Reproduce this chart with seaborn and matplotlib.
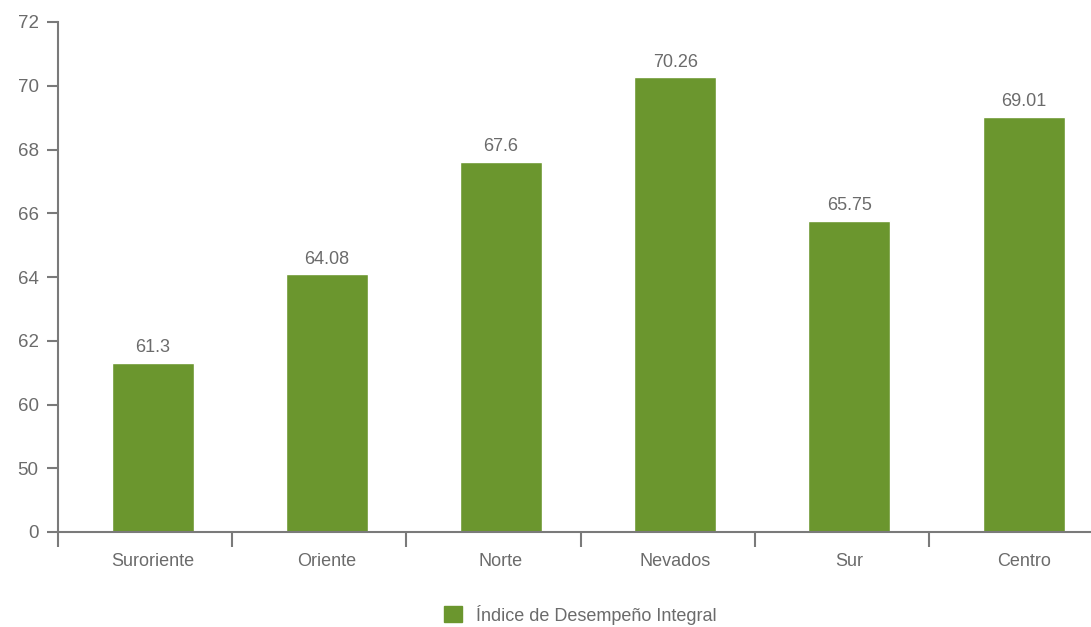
import matplotlib
matplotlib.use("Agg")
import matplotlib.pyplot as plt
import matplotlib.patches as mpatches
import seaborn as sns
import numpy as np
import pandas as pd

# data
regions = ["Suroriente", "Oriente", "Norte", "Nevados", "Sur", "Centro"]
scores = [61.3, 64.08, 67.6, 70.26, 65.75, 69.01]
y_ticks = [56, 58, 60, 62, 64, 66, 68, 70, 72]
y_tick_labels = ["0", "50", "60", "62", "64", "66", "68", "70", "72"]
series_name = "Índice de Desempeño Integral"

bar_color = "#6b962e"
text_color = "#6b6b6b"
axis_color = "#7a7a7a"

sns.set_style("white")
plt.rcParams["font.family"] = ["Liberation Sans Narrow", "Liberation Sans", "DejaVu Sans"]

df = pd.DataFrame({"region": regions, "score": scores})

fig = plt.figure(figsize=(10.91, 6.27), dpi=100)
ax = fig.add_axes([58 / 1091, (627 - 532) / 627, 1033 / 1091, 510 / 627])

sns.barplot(data=df, x="region", y="score", color=bar_color, width=0.47,
            saturation=1, ax=ax)

ax.set_ylim(56, 72)
ax.set_xlim(-0.543, 5.387)
ax.set_yticks(y_ticks)
ax.set_yticklabels(y_tick_labels)

# category ticks are drawn at the boundaries between bars
ax.set_xticks(range(len(regions)))
ax.set_xticklabels(regions)
ax.set_xticks(np.arange(len(regions)) - 0.543, minor=True)
ax.tick_params(axis="x", which="both", bottom=True)
ax.tick_params(axis="x", which="major", length=0, pad=15, labelsize=13, labelcolor=text_color)
ax.tick_params(axis="x", which="minor", length=11, width=1.5, color=axis_color, direction="out")
ax.tick_params(axis="y", left=True, length=8, width=1.5, color=axis_color, direction="out",
               labelsize=13.5, labelcolor=text_color, pad=6)

for side in ["top", "right"]:
    ax.spines[side].set_visible(False)
for side in ["left", "bottom"]:
    ax.spines[side].set_color(axis_color)
    ax.spines[side].set_linewidth(1.5)

ax.set_xlabel("")
ax.set_ylabel("")

for i, v in enumerate(scores):
    ax.annotate(f"{v:g}", (i, v), textcoords="offset points", xytext=(0, 5),
                ha="center", va="bottom", fontsize=13, color=text_color)

handle = mpatches.Patch(color=bar_color, label=series_name)
fig.legend(handles=[handle], loc="lower center", bbox_to_anchor=(0.532, -0.022),
           frameon=False, fontsize=13, labelcolor=text_color,
           handlelength=1.0, handleheight=1.0, handletextpad=0.8)

fig.savefig("out.png", dpi=100)
